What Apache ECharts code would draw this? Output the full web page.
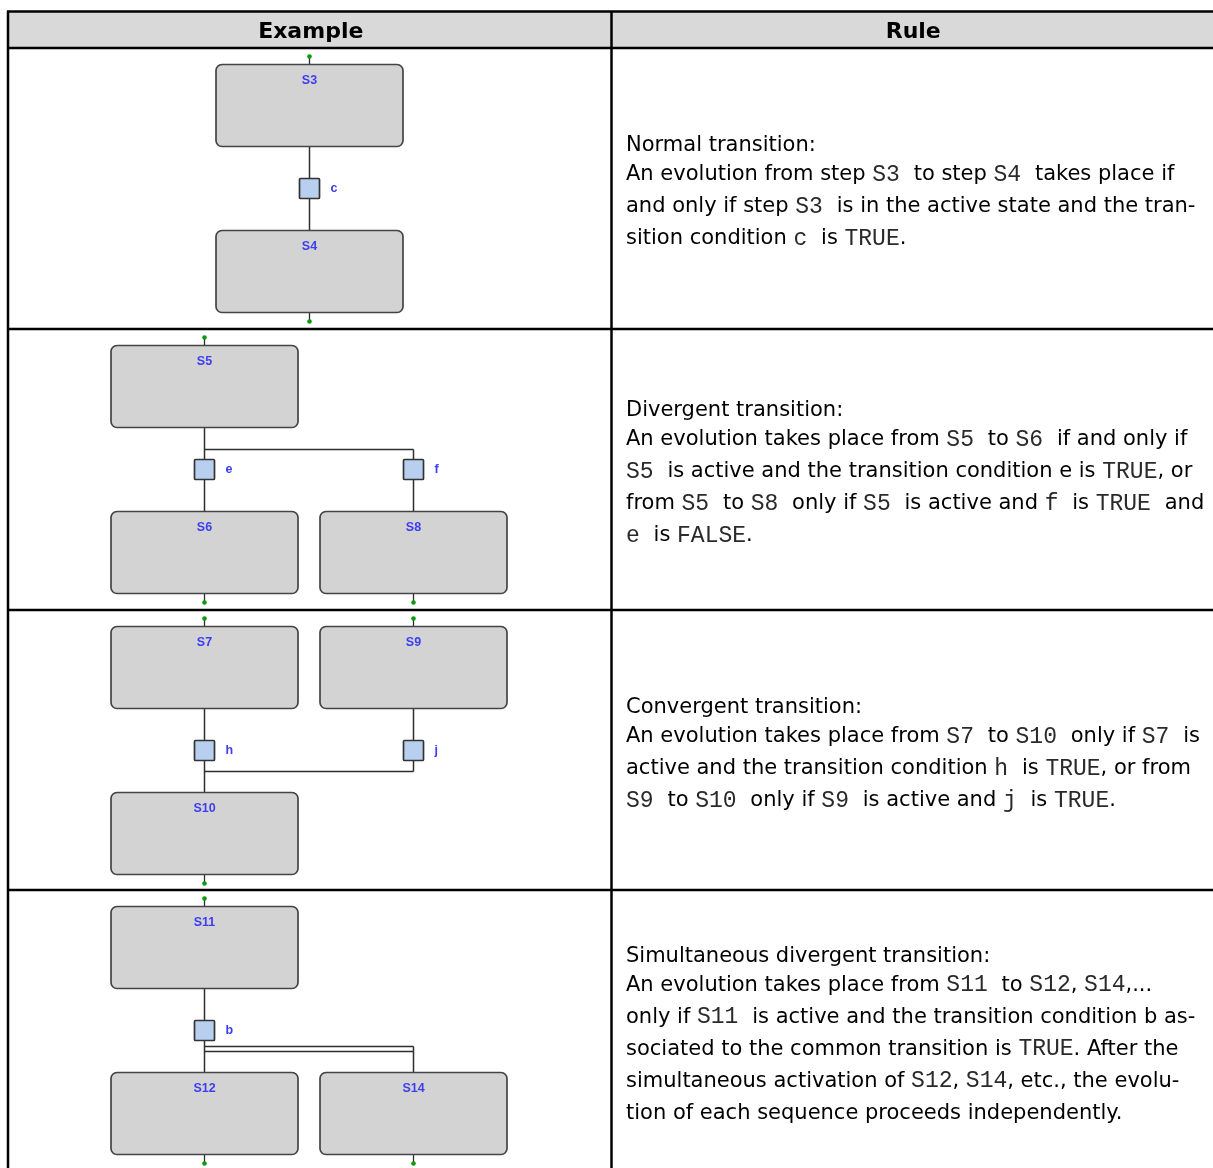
<!DOCTYPE html>
<html><head><meta charset="utf-8">
<script src="https://cdn.jsdelivr.net/npm/echarts@6/dist/echarts.min.js"></script>
<style>html,body{margin:0;padding:0;background:#fff}#c{width:1213px;height:1168px}</style>
</head><body><div id="c"></div>
<script>
// ---- content ----
const headers = ['Example', 'Rule'];
const rowKinds = ['normal', 'divergent', 'convergent', 'simultaneous'];

const stepNames = ['S3', 'S4', 'S5', 'S6', 'S8', 'S7', 'S9', 'S10', 'S11', 'S12', 'S14'];
const stepCol   = [0.5, 0.5, 0, 0, 1, 0, 1, 0, 0, 0, 1];
const stepRow   = [0, 0, 1, 1, 1, 2, 2, 2, 3, 3, 3];
const stepSlot  = [0, 1, 0, 1, 1, 0, 0, 1, 0, 1, 1];

const transNames = ['c', 'e', 'f', 'h', 'j', 'b'];
const transCol   = [0.5, 0, 1, 0, 1, 0];
const transRow   = [0, 1, 1, 2, 2, 3];

const ruleLines = [
  ['Normal transition:',
   'An evolution from step `S3` to step `S4` takes place if',
   'and only if step `S3` is in the active state and the tran-',
   'sition condition `c` is `TRUE`.'],
  ['Divergent transition:',
   'An evolution takes place from `S5` to `S6` if and only if',
   '`S5` is active and the transition condition e is `TRUE`, or',
   'from `S5` to `S8` only if `S5` is active and `f` is `TRUE` and',
   '`e` is `FALSE`.'],
  ['Convergent transition:',
   'An evolution takes place from `S7` to `S10` only if `S7` is',
   'active and the transition condition `h` is `TRUE`, or from',
   '`S9` to `S10` only if `S9` is active and `j` is `TRUE`.'],
  ['Simultaneous divergent transition:',
   'An evolution takes place from `S11` to `S12`, `S14`,...',
   'only if `S11` is active and the transition condition b as-',
   'sociated to the common transition is `TRUE`. After the',
   'simultaneous activation of `S12`, `S14`, etc., the evolu-',
   'tion of each sequence proceeds independently.']
];

// ---- styles / layout ----
const BOX_W = 187, BOX_H = 82, BOX_OFF = 16, SLOT_GAP = 166;
const TR_OFF = 140, TR_SIZE = 20;
const LINE = '#2e2e2e', BLUE = '#3d3df2', GREEN = '#0a9a0a';
const SANS = "'DejaVu Sans', Verdana, sans-serif";
const MONO = "'Liberation Mono', 'DejaVu Sans Mono', monospace";
const W = 1213, H = 1168, TOP = 11, HEAD_B = 48, COL_X = 611.5, LEFT = 8;
const ROW_H = 280.75, Y_MAX = 3.98;

const chart = echarts.init(document.getElementById('c'), null, {renderer: 'canvas'});

function crisp(v) { return Math.round(v - 0.5) + 0.5; }

function renderStep(params, api) {
  const i = params.dataIndex;
  const p = api.coord([api.value(0), api.value(1)]);
  const slot = api.value(2);
  const cx = crisp(p[0]);
  const top = Math.round(p[1] + BOX_OFF + slot * SLOT_GAP) + 0.5;
  const bot = top + BOX_H;
  const dotY = slot === 0 ? top - 8 : bot + 9;
  return {
    type: 'group',
    children: [
      {type: 'line', shape: {x1: cx, y1: slot === 0 ? dotY : bot, x2: cx, y2: slot === 0 ? top : dotY},
       style: {stroke: LINE, lineWidth: 1.3}},
      {type: 'rect', shape: {x: cx - BOX_W / 2, y: top, width: BOX_W, height: BOX_H, r: 6},
       style: {fill: '#d3d3d3', stroke: '#444444', lineWidth: 1.7}},
      {type: 'text', x: cx, y: top + 16,
       style: {text: stepNames[i], fill: BLUE, font: "bold 12.5px 'Liberation Sans', Arial, sans-serif",
               align: 'center', verticalAlign: 'middle'}},
      {type: 'circle', shape: {cx: cx, cy: dotY, r: 2.3}, style: {fill: GREEN}}
    ]
  };
}

function renderTrans(params, api) {
  const i = params.dataIndex;
  const p = api.coord([api.value(0), api.value(1)]);
  const cx = crisp(p[0]);
  const cy = Math.round(p[1] + TR_OFF) + 0.5;
  return {
    type: 'group',
    children: [
      {type: 'rect', shape: {x: cx - TR_SIZE / 2, y: cy - TR_SIZE / 2, width: TR_SIZE, height: TR_SIZE, r: 1},
       style: {fill: '#b8cfef', stroke: '#333333', lineWidth: 1.7}},
      {type: 'text', x: cx + 21, y: cy,
       style: {text: transNames[i], fill: BLUE, font: "bold 12.5px 'Liberation Sans', Arial, sans-serif",
               align: 'left', verticalAlign: 'middle'}}
    ]
  };
}

function renderLinks(params, api) {
  const r = api.value(0);
  const kind = rowKinds[params.dataIndex];
  const a = api.coord([0, r]), b = api.coord([1, r]), m = api.coord([0.5, r]);
  const T = a[1];
  const x0 = crisp(a[0]), x1 = crisp(b[0]), xm = crisp(m[0]);
  const y = v => Math.round(T + v) + 0.5;
  const segs = [];
  const L = (X1, Y1, X2, Y2) => segs.push({type: 'line', shape: {x1: X1, y1: Y1, x2: X2, y2: Y2},
                                           style: {stroke: LINE, lineWidth: 1.5}});
  const upper = BOX_OFF + BOX_H, lower = BOX_OFF + SLOT_GAP;
  if (kind === 'normal') {
    L(xm, y(upper), xm, y(lower));
  } else if (kind === 'divergent') {
    L(x0, y(upper), x0, y(lower));
    L(x0, y(120), x1, y(120));
    L(x1, y(120), x1, y(lower));
  } else if (kind === 'convergent') {
    L(x0, y(upper), x0, y(lower));
    L(x1, y(upper), x1, y(161));
    L(x0, y(161), x1, y(161));
  } else {
    L(x0, y(upper), x0, y(lower));
    L(x0, y(156), x1, y(156));
    L(x0, y(161), x1, y(161));
    L(x1, y(156), x1, y(lower));
  }
  return {type: 'group', children: segs};
}

function richLine(s) {
  const parts = s.split('`');
  // a space right after a code word is set in the code font (as in the source document)
  for (let k = 1; k < parts.length; k += 2) {
    if (parts[k + 1] !== undefined && parts[k + 1].charAt(0) === ' ') {
      parts[k] += ' ';
      parts[k + 1] = parts[k + 1].slice(1);
    }
  }
  return parts.map((p, k) => p === '' ? '' : (k % 2 ? '{m|' + p + '}' : '{n|' + p + '}')).join('');
}

const option = {
  animation: false,
  backgroundColor: '#ffffff',
  grid: {left: 7, top: HEAD_B, width: 604, height: ROW_H * Y_MAX, show: false, outerBoundsMode: 'none'},
  xAxis: {type: 'value', min: -0.947, max: 1.943, show: false},
  yAxis: {type: 'value', min: 0, max: Y_MAX, inverse: true, show: false},
  series: [
    {type: 'custom', renderItem: renderLinks, silent: true, z: 1,
     data: rowKinds.map((k, r) => [r])},
    {type: 'custom', renderItem: renderStep, silent: true, z: 2,
     data: stepNames.map((n, i) => [stepCol[i], stepRow[i], stepSlot[i]])},
    {type: 'custom', renderItem: renderTrans, silent: true, z: 3,
     data: transNames.map((n, i) => [transCol[i], transRow[i]])}
  ]
};
chart.setOption(option);

// table frame + rule texts
const rowTops = [0, 1, 2, 3].map(r => chart.convertToPixel({gridIndex: 0}, [0, r])[1]);
const g = [];
g.push({type: 'rect', shape: {x: LEFT, y: TOP, width: W - LEFT, height: HEAD_B - TOP}, style: {fill: '#d9d9d9'}, z: 0});
g.push({type: 'text', x: (LEFT + COL_X) / 2 + 1, y: (TOP + HEAD_B) / 2 + 3,
        style: {text: headers[0], font: "bold 22px 'DejaVu Sans', sans-serif", fill: '#000', align: 'center', verticalAlign: 'middle'}});
g.push({type: 'text', x: (COL_X + W) / 2 + 1, y: (TOP + HEAD_B) / 2 + 3,
        style: {text: headers[1], font: "bold 22px 'DejaVu Sans', sans-serif", fill: '#000', align: 'center', verticalAlign: 'middle'}});
const hl = yy => g.push({type: 'line', shape: {x1: LEFT - 1, y1: yy, x2: W, y2: yy}, style: {stroke: '#000', lineWidth: 2.5}, z: 10});
hl(TOP + 0.5); hl(HEAD_B);
[1, 2, 3].forEach(r => hl(Math.round(rowTops[r])));
g.push({type: 'line', shape: {x1: LEFT, y1: TOP, x2: LEFT, y2: H}, style: {stroke: '#000', lineWidth: 2.5}, z: 10});
g.push({type: 'line', shape: {x1: COL_X, y1: TOP, x2: COL_X, y2: H}, style: {stroke: '#000', lineWidth: 2.5}, z: 10});

ruleLines.forEach((lines, r) => {
  const mid = rowTops[r] + 144.5;
  const n = lines.length;
  const span = 29 + 32 * (n - 2);
  let yy = mid - span / 2;
  lines.forEach((ln, k) => {
    g.push({type: 'text', x: 626, y: yy,
      style: {text: richLine(ln), align: 'left', verticalAlign: 'middle',
        rich: {
          n: {fontFamily: SANS, fontSize: 21, fill: '#000'},
          m: {fontFamily: MONO, fontSize: 23, fill: '#2a2a2a'}
        }}});
    yy += (k === 0 ? 29 : 32);
  });
});
chart.setOption({graphic: {elements: g}});
</script>
</body></html>
